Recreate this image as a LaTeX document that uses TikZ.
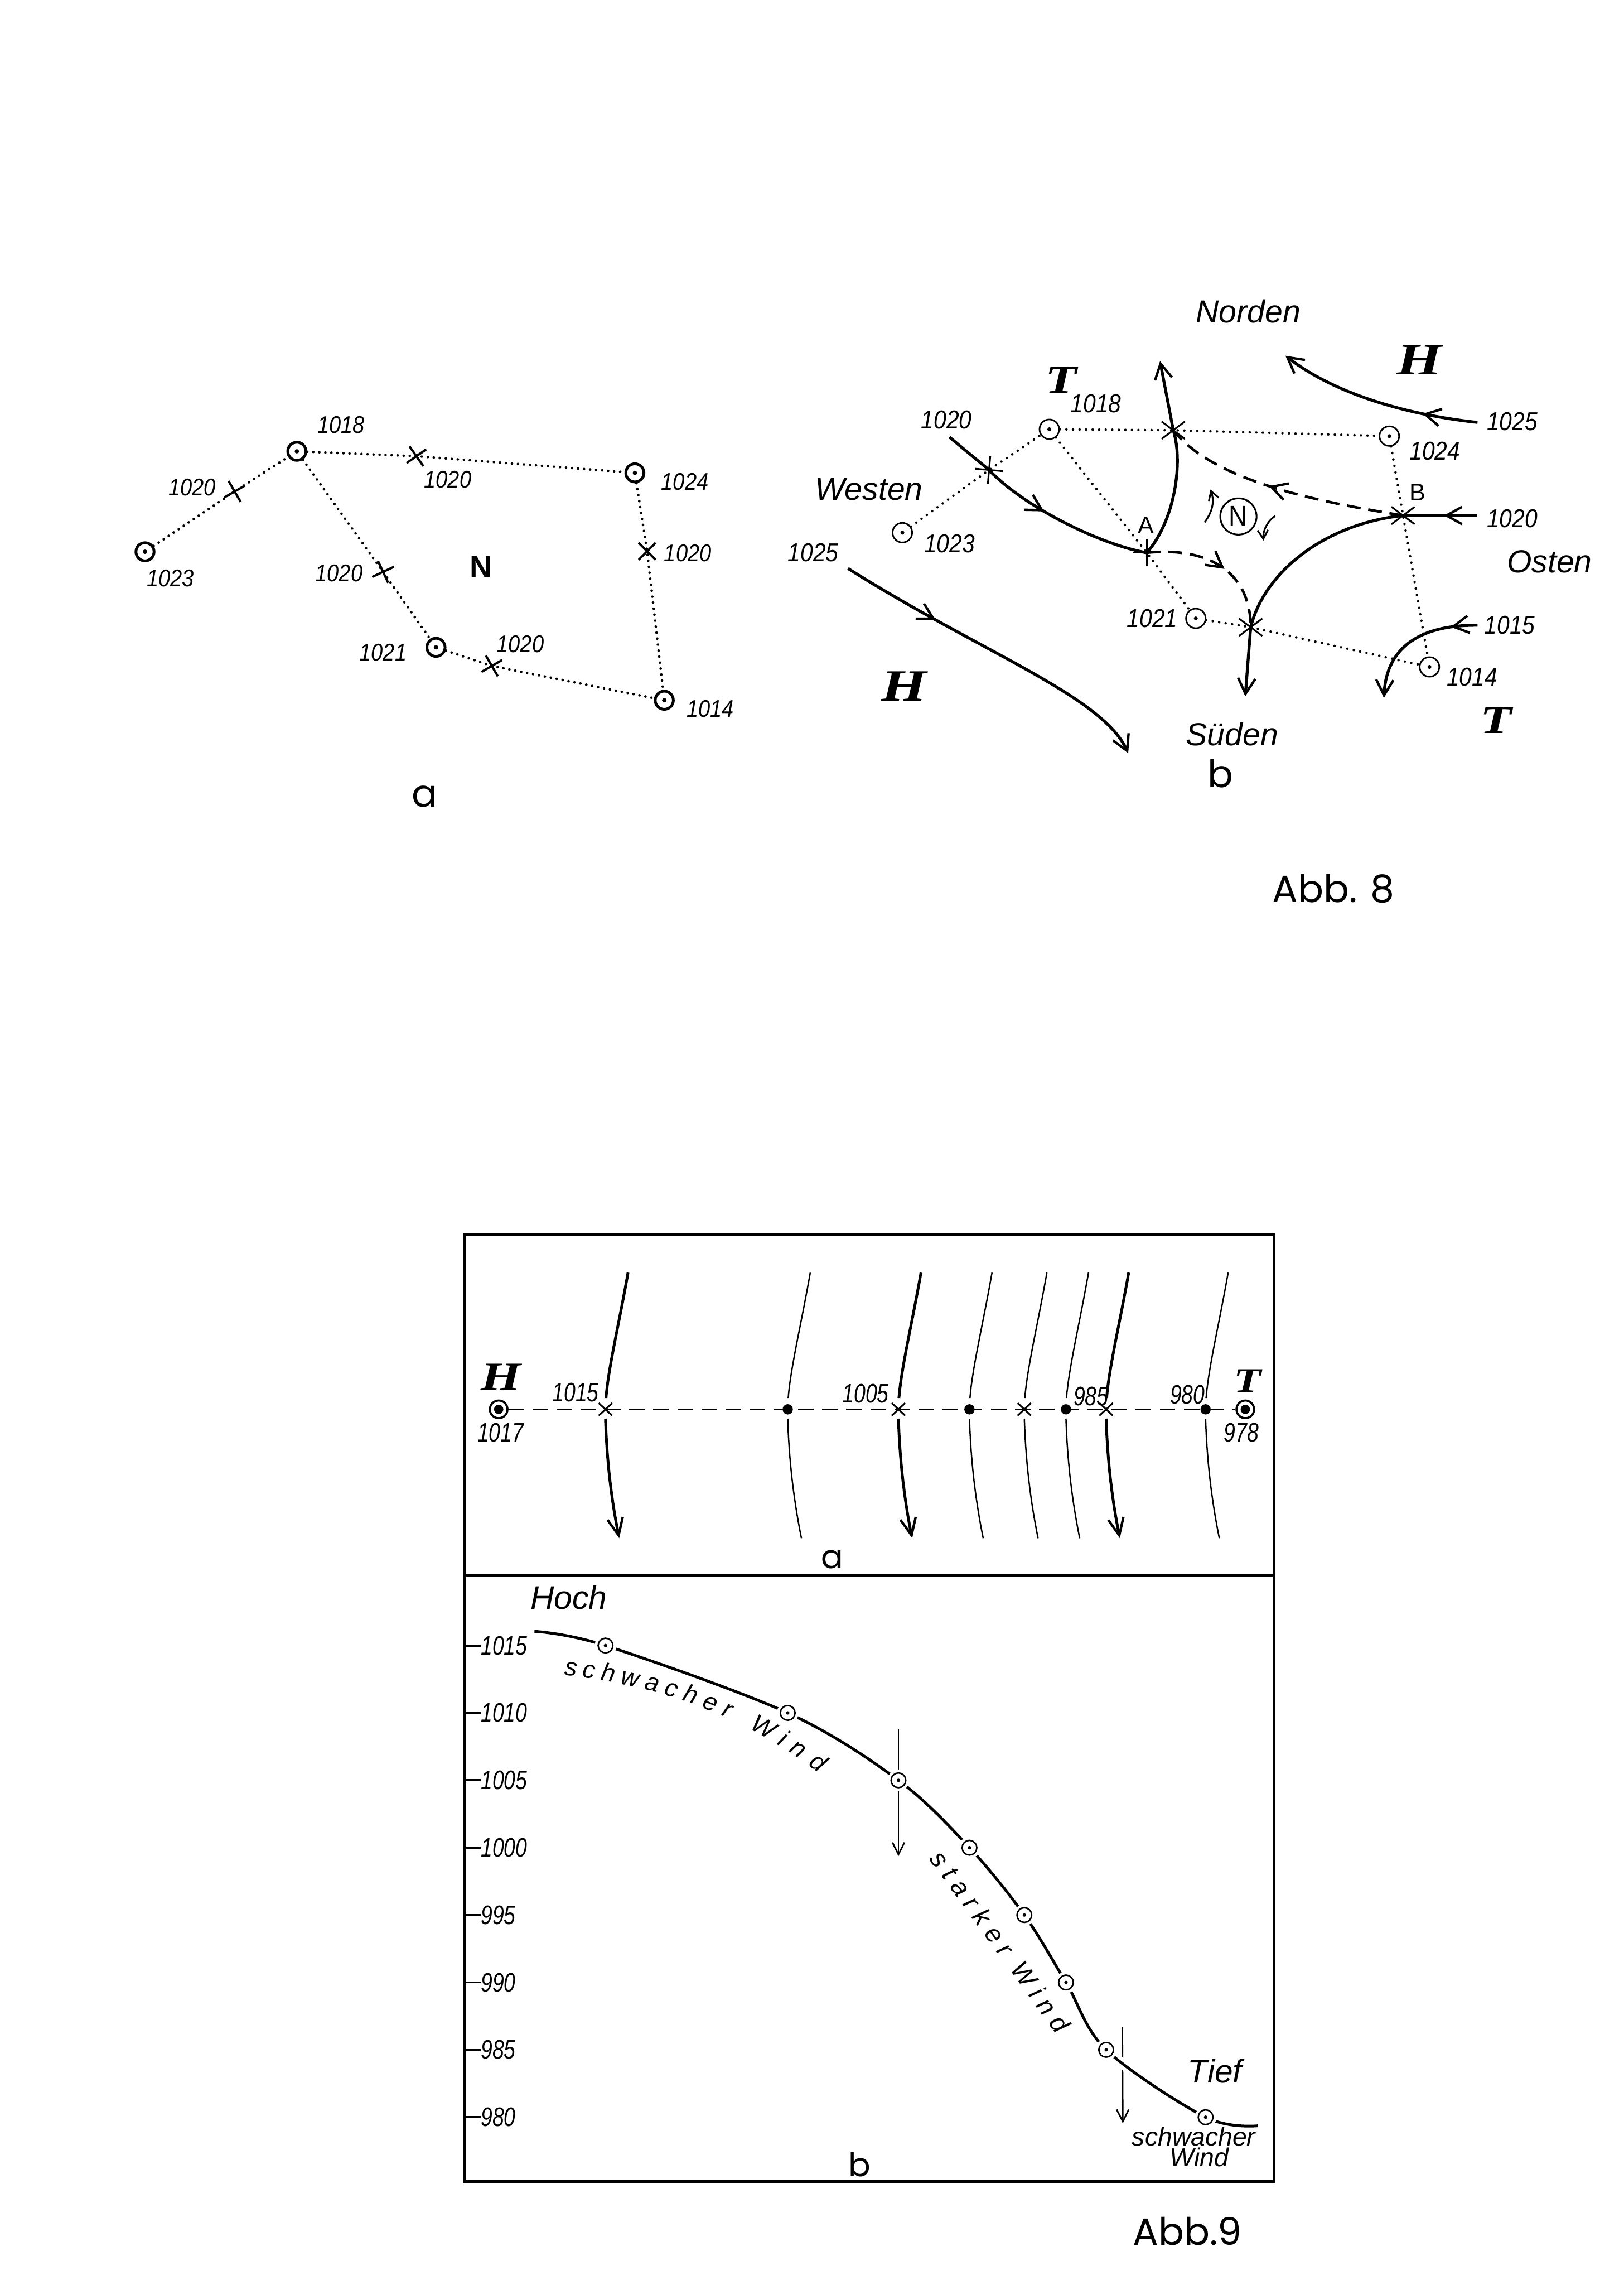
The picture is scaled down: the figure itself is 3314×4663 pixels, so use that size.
\documentclass[tikz,border=0pt]{standalone}
\usepackage{fontspec}
\usetikzlibrary{arrows.meta,decorations.markings,shapes.misc}
\newfontfamily\numf{Liberation Sans}[FakeStretch=0.88]
\newfontfamily\numnf{Liberation Sans}[FakeStretch=0.78]
\newfontfamily\wordf{Liberation Sans}
\newfontfamily\serf{Liberation Serif}[FakeStretch=1.3]
\newfontfamily\capf{Poppins}
\newfontfamily\spacedf{Liberation Sans}[LetterSpace=28]
\tikzset{
  Chev/.tip={Straight Barb[length=9pt,width=10pt,line width=1.4pt]},
  num/.style={font=\numf\itshape\fontsize{14}{16}\selectfont, inner sep=0pt},
  numb/.style={font=\numf\itshape\fontsize{15}{17}\selectfont, inner sep=0pt},
  numn/.style={font=\numnf\itshape\fontsize{15.5}{17}\selectfont, inner sep=0pt},
  dirw/.style={font=\wordf\itshape\fontsize{18.5}{20}\selectfont, inner sep=0pt},
  bigl/.style={font=\serf\bfseries\itshape\fontsize{#1}{#1}\selectfont, inner sep=0pt},
  capt/.style={font=\capf\fontsize{#1}{#1}\selectfont, inner sep=0pt, anchor=base},
  upl/.style={font=\wordf\fontsize{14}{16}\selectfont, inner sep=0pt},
  windl/.style={font=\wordf\itshape\fontsize{14.5}{16}\selectfont, inner sep=0pt, anchor=base},
  stnA/.style={circle, draw, line width=1.6pt, minimum size=0.37cm, inner sep=0pt, fill=white,
    path picture={\fill[black] (path picture bounding box.center) circle[radius=0.045cm];}},
  stnB/.style={circle, draw, line width=0.9pt, minimum size=0.40cm, inner sep=0pt, fill=white,
    path picture={\fill[black] (path picture bounding box.center) circle[radius=0.04cm];}},
  stnC/.style={circle, draw, line width=0.85pt, minimum size=0.30cm, inner sep=0pt, fill=white,
    preaction={draw=white, line width=4pt},
    path picture={\fill[black] (path picture bounding box.center) circle[radius=0.035cm];}},
  bull/.style={circle, draw, line width=1.2pt, minimum size=0.36cm, inner sep=0pt, fill=white,
    path picture={\fill[black] (path picture bounding box.center) circle[radius=0.095cm];}},
  dotn/.style={circle, fill, minimum size=0.21cm, inner sep=0pt},
  xA/.style={cross out, draw, line width=1.3pt, minimum size=0.30cm, inner sep=0pt},
  xB/.style={cross out, draw, line width=1pt, minimum width=0.44cm, minimum height=0.32cm, inner sep=0pt},
  xP/.style={cross out, draw, line width=1pt, minimum size=0.36cm, inner sep=0pt, rotate=45},
  xC/.style={cross out, draw, line width=1pt, minimum width=0.24cm, minimum height=0.22cm, inner sep=0pt},
  dotA/.style={line width=1.5pt, line cap=round, dash pattern=on 0pt off 3.5pt},
  dotB/.style={line width=1.45pt, line cap=round, dash pattern=on 0pt off 3.8pt},
  arr8/.style={line width=1.7pt, -{Chev}},
  sol8/.style={line width=1.7pt},
  dsh8/.style={line width=1.5pt, dash pattern=on 8pt off 4.5pt},
  mid8/.style={postaction={decorate}, decoration={markings, mark=at position #1 with {\arrow{Chev}}}},
  small8/.style={line width=1pt, -{Straight Barb[length=5pt,width=6pt,line width=1pt]}},
  dash9/.style={line width=1.1pt, dash pattern=on 9pt off 5pt},
  isoT/.style={line width=1.6pt},
  isoTL/.style={line width=1.6pt, -{Straight Barb[length=10pt,width=9pt,line width=1.4pt]}},
  isot/.style={line width=0.8pt},
  isotL/.style={line width=0.8pt},
  boxl/.style={line width=1.5pt},
  curve9/.style={line width=1.6pt, preaction={draw=white, line width=6pt}},
  arr9/.style={line width=0.9pt, -{Straight Barb[length=7pt,width=7pt,line width=0.9pt]}},
  tickl/.style={line width=1.2pt},
}
\begin{document}
\begin{tikzpicture}[x=0.01cm,y=-0.01cm]
\fill[white] (0,0) rectangle (3314,4663);
\useasboundingbox (0,0) rectangle (3314,4663);

% ================= Abb. 8 a =================
\node[stnA] (a1023) at (296,1126) {};
\node[stnA] (a1018) at (606,921) {};
\node[stnA] (a1024) at (1296,965) {};
\node[stnA] (a1021) at (890,1321) {};
\node[stnA] (a1014) at (1356,1429) {};
\node[xA, rotate=-15] (ax1) at (479,1003) {};
\node[xA, rotate=-10] (ax2) at (850,931) {};
\node[xA, rotate=-20] (ax3) at (782,1167) {};
\node[xA, rotate=-15] (ax4) at (1004,1359) {};
\node[xA] (ax5) at (1321,1125) {};
\draw[dotA] (a1023) -- (ax1.center) -- (a1018);
\draw[dotA] (a1018) -- (ax2.center) -- (a1024);
\draw[dotA] (a1018) -- (ax3.center) -- (a1021);
\draw[dotA] (a1021) -- (ax4.center) -- (a1014);
\draw[dotA] (a1024) -- (ax5.center) -- (a1014);
\node[num] (la1018) at (696,867) {1018};
\node[num] (la1020a) at (392,994) {1020};
\node[num] (la1023) at (348,1180) {1023};
\node[num] (la1020b) at (914,979) {1020};
\node[num] (la1024) at (1398,983) {1024};
\node[num] (la1020c) at (1404,1129) {1020};
\node[num] (la1020d) at (692,1170) {1020};
\node[font=\wordf\bfseries\fontsize{18}{20}\selectfont, inner sep=0pt] (laN) at (982,1157) {N};
\node[num] (la1021) at (782,1331) {1021};
\node[num] (la1020e) at (1062,1314) {1020};
\node[num] (la1014) at (1450,1447) {1014};
\node[capt=22] (capa) at (867,1647) {a};

% ================= Abb. 8 b =================
\node[stnB] (b1018) at (2142,876) {};
\node[stnB] (b1024) at (2836,890) {};
\node[stnB] (b1023) at (1842,1087) {};
\node[stnB] (b1021) at (2441,1262) {};
\node[stnB] (b1014) at (2918,1361) {};
\node[xP, rotate=-5] (L) at (2019,959) {};
\node[xP] (A) at (2341,1128) {};
\node[xB] (top) at (2395,878) {};
\node[xB] (B) at (2864,1052) {};
\node[xB] (bot) at (2553,1280) {};
\draw[dotB] (b1023) -- (L.center) -- (b1018);
\draw[dotB] (b1018) -- (top.center) -- (b1024);
\draw[dotB] (b1018) -- (A.center) -- (b1021);
\draw[dotB] (b1021) -- (bot.center) -- (b1014);
\draw[dotB] (b1024) -- (B.center) -- (b1014);

\coordinate (ne0) at (3016,862);
\coordinate (ne1) at (2624,726);
\coordinate (sw0) at (1731,1160);
\coordinate (sw1) at (2303,1537);
\coordinate (se0) at (3016,1276);
\coordinate (se1) at (2825,1424);
\coordinate (e0) at (3016,1052);
\coordinate (w0) at (1938,892);
\coordinate (n1) at (2368,737);
\coordinate (s1) at (2542,1421);
\coordinate (nl0) at (2459,1066);
\coordinate (nl1) at (2471,999);
\coordinate (nr0) at (2603,1053);
\coordinate (nr1) at (2579,1103);

\draw[arr8, mid8=0.27] (ne0) .. controls (2860,845) and (2720,800) .. (ne1);
\draw[arr8, mid8=0.3] (sw0) .. controls (2000,1330) and (2250,1420) .. (sw1);
\draw[arr8, mid8=0.2] (se0) .. controls (2900,1275) and (2830,1320) .. (se1);
\draw[sol8, mid8=0.45] (e0) -- (B.center);
\draw[sol8, mid8=0.52] (w0) -- (L.center) .. controls (2085,1030) and (2240,1110) .. (A.center);
\draw[arr8] (A.center) .. controls (2400,1060) and (2415,940) .. (top.center) -- (n1);
\draw[dsh8, mid8=0.55] (B.center) .. controls (2700,1025) and (2480,985) .. (top.center);
\draw[dsh8, mid8=0.55] (A.center) .. controls (2470,1115) and (2553,1170) .. (bot.center);
\draw[sol8] (bot.center) .. controls (2580,1170) and (2700,1070) .. (B.center);
\draw[arr8] (bot.center) -- (s1);
\node[circle, draw, line width=1pt, minimum size=0.74cm, inner sep=0pt,
      font=\numf\fontsize{17}{19}\selectfont] (Nc) at (2528,1054) {N};
\draw[small8] (nl0) .. controls (2478,1040) and (2478,1020) .. (nl1);
\draw[small8] (nr0) .. controls (2585,1065) and (2578,1085) .. (nr1);

\node[dirw] (norden) at (2548,635) {Norden};
\node[bigl=26] (H1) at (2897,735) {H};
\node[numb] (lb1025a) at (3087,860) {1025};
\node[bigl=23] (T1) at (2166,776) {T};
\node[numb] (lb1018) at (2237,824) {1018};
\node[numb] (lb1020a) at (1932,857) {1020};
\node[dirw] (westen) at (1774,998) {Westen};
\node[numb] (lb1023) at (1938,1110) {1023};
\node[numb] (lb1024) at (2929,920) {1024};
\node[upl] (lbB) at (2894,1005) {B};
\node[upl] (lbA) at (2339,1072) {A};
\node[numb] (lb1020b) at (3087,1058) {1020};
\node[dirw] (osten) at (3163,1146) {Osten};
\node[numb] (lb1021) at (2352,1262) {1021};
\node[numb] (lb1015) at (3082,1276) {1015};
\node[numb] (lb1014) at (3005,1382) {1014};
\node[numb] (lb1025b) at (1660,1128) {1025};
\node[bigl=26] (H2) at (1845,1400) {H};
\node[bigl=23] (T2) at (3054,1470) {T};
\node[dirw] (sueden) at (2515,1498) {Süden};
\node[capt=22] (capb) at (2491,1607) {b};
\node[capt=22] (abb8) at (2722,1841) {Abb. 8};

% ================= Abb. 9 =================
\draw[boxl] (949,2520) rectangle (2600,4452);
\draw[boxl] (949,3214) -- (2600,3214);

% --- 9 a ---
\foreach \xm/\su/\sl in {1236/isoT/isoTL,1608/isot/isotL,1834/isoT/isoTL,1979/isot/isotL,
                          2091/isot/isotL,2176/isot/isotL,2258/isoT/isoTL,2461/isot/isotL} {
  \draw[\su] (\xm+46,2597) .. controls (\xm+28,2700) and (\xm+6,2790) .. (\xm+1,2853);
  \draw[\sl] (\xm,2895) .. controls (\xm+3,2990) and (\xm+14,3070) .. (\xm+28,3139);
}
\node[bull] (H9) at (1018,2876) {};
\node[bull] (T9) at (2542,2876) {};
\draw[dash9] (H9) -- (T9);
\node[xC] (k1) at (1236,2876) {};
\node[xC] (k2) at (1834,2876) {};
\node[xC] (k3) at (2091,2876) {};
\node[xC] (k4) at (2258,2876) {};
\node[dotn] (d1) at (1608,2876) {};
\node[dotn] (d2) at (1979,2876) {};
\node[dotn] (d3) at (2176,2876) {};
\node[dotn] (d4) at (2461,2876) {};
\node[bigl=23] (H9l) at (1023,2810) {H};
\node[bigl=20] (T9l) at (2547,2818) {T};
\node[numn] (l1017) at (1022,2923) {1017};
\node[numn] (l978) at (2534,2923) {978};
\node[numn] (l1015) at (1175,2841) {1015};
\node[numn] (l1005) at (1767,2844) {1005};
\node[numn] (l985) at (2227,2849) {985};
\node[numn] (l980) at (2424,2846) {980};
\node[capt=19] (cap9a) at (1699,3201) {a};

% --- 9 b ---
\foreach \p/\yy in {1015/3358,1010/3495.5,1005/3633,1000/3770.5,995/3908,990/4045.5,985/4183,980/4320.5} {
  \node[numn, anchor=west] (tk\p) at (981,\yy) {\p};
  \draw[tickl] (949,\yy) -- (tk\p.west);
}
\foreach \xx/\yy [count=\i] in {1236/3358,1608/3495.5,1834/3633,1979/3770.5,2091/3908,2176/4045.5,2258/4183,2461/4320.5}
  \coordinate (p\i) at (\xx,\yy);
\coordinate (c9s) at (1091,3329);
\coordinate (c9e) at (2568,4338);
\coordinate (v1a) at (1834,3529);
\coordinate (v1b) at (1834,3788);
\coordinate (v2a) at (2291,4137);
\coordinate (v2b) at (2292,4333);
\draw[arr9] (v1a) -- (v1b);
\draw[arr9] (v2a) -- (v2b);
\draw[curve9] plot[smooth, tension=0.55] coordinates {(c9s) (p1) (p2) (p3) (p4) (p5) (p6) (p7) (p8) (c9e)};
\foreach \i in {1,...,8} \node[stnC] (q\i) at (p\i) {};

\node[font=\wordf\itshape\fontsize{19}{21}\selectfont, inner sep=0pt] (hoch) at (1161,3260) {Hoch};
\node[font=\wordf\itshape\fontsize{19}{21}\selectfont, inner sep=0pt] (tief) at (2480,4226) {Tief};
\coordinate (swA) at (1164,3420);
\coordinate (swB) at (1660,3610);
\path (swA) .. controls (1330,3440) and (1500,3490) .. (swB)
  node[windl, sloped, pos=0] (sw1) {s}
  node[windl, sloped, pos=0.074] (sw2) {c}
  node[windl, sloped, pos=0.152] (sw3) {h}
  node[windl, sloped, pos=0.239] (sw4) {w}
  node[windl, sloped, pos=0.327] (sw5) {a}
  node[windl, sloped, pos=0.404] (sw6) {c}
  node[windl, sloped, pos=0.481] (sw7) {h}
  node[windl, sloped, pos=0.561] (sw8) {e}
  node[windl, sloped, pos=0.631] (sw9) {r}
  node[windl, sloped, pos=0.774] (sw10) {W}
  node[windl, sloped, pos=0.856] (sw11) {i}
  node[windl, sloped, pos=0.920] (sw12) {n}
  node[windl, sloped, pos=1.0] (sw13) {d};
\node[font=\spacedf\itshape\fontsize{15}{17}\selectfont, inner sep=0pt, rotate=-54] (stw) at (2042,3962) {starker Wind};
\node[font=\wordf\itshape\fontsize{15}{17}\selectfont, inner sep=0pt, anchor=base] (schw2) at (2437,4379) {schwacher};
\node[font=\wordf\itshape\fontsize{15}{17}\selectfont, inner sep=0pt, anchor=base] (wind2) at (2448,4421) {Wind};
\node[capt=19] (cap9b) at (1755,4442) {b};
\node[capt=22] (abb9) at (2424,4581) {Abb.9};
\end{tikzpicture}
\end{document}
